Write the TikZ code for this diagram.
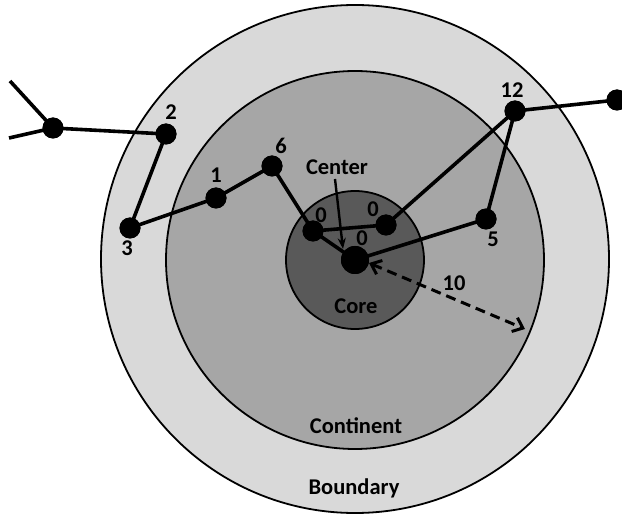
\documentclass[tikz,border=0pt]{standalone}
\usepackage{fontspec}
\setmainfont{Carlito}
\usetikzlibrary{arrows.meta}
\definecolor{ringout}{HTML}{D9D9D9}
\definecolor{ringmid}{HTML}{A6A6A6}
\definecolor{ringcore}{HTML}{595959}
\begin{document}
\begin{tikzpicture}[x=1pt,y=-1pt,
  zone/.style={draw=black,line width=1.8pt},
  dot/.style={circle,fill=black,inner sep=0pt,minimum size=21pt},
  bigdot/.style={circle,fill=black,inner sep=0pt,minimum size=28pt},
  link/.style={line width=3.6pt},
  lbl/.style={font=\fontsize{22.5}{26}\selectfont\bfseries,inner sep=0pt}]
\useasboundingbox (0,0) rectangle (622,516);
\fill[white] (0,0) rectangle (622,516);
% zones
\draw[zone,fill=ringout] (355,259) circle[radius=254];
\draw[zone,fill=ringmid] (355,260) circle[radius=189];
\draw[zone,fill=ringcore] (355,260) circle[radius=69];
% nodes
\node[dot] (L) at (53,128) {};
\coordinate (L1) at (10,81);
\coordinate (L2) at (9,138);
\node[dot] (n2) at (166,134) {};
\node[dot] (n3) at (130,228) {};
\node[dot] (n1) at (216,198) {};
\node[dot] (n6) at (272,166) {};
\node[dot] (a0) at (313,231) {};
\node[dot] (b0) at (386,225) {};
\node[bigdot] (c0) at (355,260) {};
\node[dot] (n5) at (486,219) {};
\node[dot] (n12) at (515,111) {};
\node[dot] (R) at (617,100) {};
\coordinate (tip) at (525,329);
% links
\draw[link] (L1) -- (L.center);
\draw[link] (L2) -- (L.center);
\draw[link] (L.center) -- (n2.center);
\draw[link] (n2.center) -- (n3.center);
\draw[link] (n3.center) -- (n1.center);
\draw[link] (n1.center) -- (n6.center);
\draw[link] (n6.center) -- (a0.center);
\draw[link] (a0.center) -- (b0.center);
\draw[link] (a0.center) -- (c0.center);
\draw[link] (b0.center) -- (n12.center);
\draw[link] (n12.center) -- (n5.center);
\draw[link] (n12.center) -- (R.center);
\draw[link] (n5.center) -- (c0.center);
% redraw dots on top
\foreach \n in {L,n2,n3,n1,n6,a0,b0,n5,n12,R} \fill (\n) circle[radius=10.5];
\fill (c0) circle[radius=14];
% labels
\node[lbl] (t2) at (171,112) {2};
\node[lbl] (t3) at (127,248) {3};
\node[lbl] (t1) at (216,175) {1};
\node[lbl] (t6) at (281,146) {6};
\node[lbl] (ta) at (321,215) {0};
\node[lbl] (tb) at (373,209) {0};
\node[lbl] (tc) at (362,238) {0};
\node[lbl] (t5) at (493,239) {5};
\node[lbl] (t12) at (512,90) {12};
\node[lbl] (center) at (337,167) {Center};
\node[lbl] (core) at (356,306) {Core};
\node[lbl] (ten) at (454,283) {10};
\node[lbl] (cont) at (356,426) {Continent};
\node[lbl] (bound) at (354,488) {Boundary};
% arrows
\draw[line width=2.4pt,-{Stealth[length=11pt,width=8pt]}] (335,179) -- (343,249);
\draw[line width=3pt,dash pattern=on 10pt off 6pt,{Straight Barb[length=9pt,width=15pt,line width=3pt]}-{Straight Barb[length=9pt,width=15pt,line width=3pt]}] (c0.center) ++(14,3) -- (tip);
\end{tikzpicture}
\end{document}
